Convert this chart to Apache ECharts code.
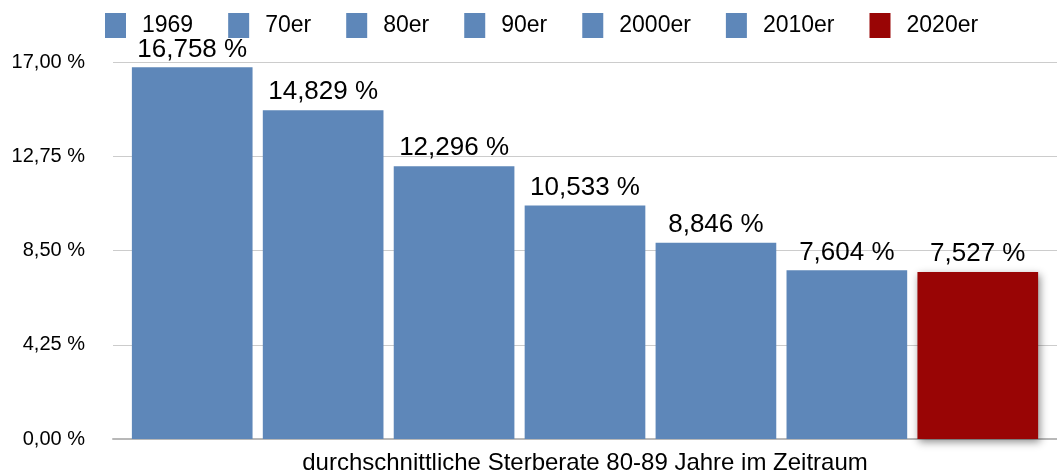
<!DOCTYPE html>
<html>
<head>
<meta charset="utf-8">
<script src="https://cdn.jsdelivr.net/npm/echarts@6/dist/echarts.min.js"></script>
<style>
  html, body { margin: 0; padding: 0; background: #fff; }
  #chart { width: 1057px; height: 475px; }
</style>
</head>
<body>
<div id="chart"></div>
<script>
// Average death rate, ages 80-89, per period
const periods = ['1969', '70er', '80er', '90er', '2000er', '2010er', '2020er'];
const rates = [16.758, 14.829, 12.296, 10.533, 8.846, 7.604, 7.527];
const barColors = ['#5e87b9', '#5e87b9', '#5e87b9', '#5e87b9', '#5e87b9', '#5e87b9', '#990505'];
const categories = [''];
const axisName = 'durchschnittliche Sterberate 80-89 Jahre im Zeitraum';

const FONT = '"Liberation Sans", Arial, sans-serif';

const fmt = (v, d) => v.toFixed(d).replace('.', ',') + ' %';

const series = periods.map((name, i) => ({
  name: name,
  type: 'bar',
  data: [rates[i]],
  barGap: '8.5%',
  barCategoryGap: '4.0%',
  itemStyle: Object.assign(
    { color: barColors[i] },
    i === periods.length - 1
      ? { shadowBlur: 8, shadowOffsetX: 2, shadowOffsetY: 3, shadowColor: 'rgba(0,0,0,0.45)' }
      : {}
  ),
  label: {
    show: true,
    position: 'top',
    distance: 5,
    color: '#000',
    fontFamily: FONT,
    fontSize: 26,
    formatter: p => fmt(p.value, 3)
  },
  emphasis: { disabled: true }
}));

const chart = echarts.init(document.getElementById('chart'), null, { renderer: 'canvas' });
chart.setOption({
  animation: false,
  backgroundColor: '#fff',
  legend: {
    data: periods,
    left: 105,
    top: 13,
    padding: 0,
    icon: 'rect',
    itemWidth: 21,
    itemHeight: 25,
    itemGap: 35,
    textStyle: {
      color: '#000',
      fontFamily: FONT,
      fontSize: 23,
      padding: [0, 0, 0, 11]
    }
  },
  grid: { left: 113, right: 0, top: 62, bottom: 36, containLabel: false, outerBoundsMode: 'none' },
  xAxis: {
    type: 'category',
    data: categories,
    name: axisName,
    nameLocation: 'middle',
    nameGap: 12,
    nameTextStyle: { color: '#000', fontFamily: FONT, fontSize: 24 },
    axisTick: { show: false },
    axisLabel: { show: false },
    axisLine: { lineStyle: { color: '#b8b8b8', width: 2 } }
  },
  yAxis: {
    type: 'value',
    min: 0,
    max: 17,
    interval: 4.25,
    axisLine: { show: false },
    axisTick: { show: false },
    axisLabel: {
      color: '#000',
      fontFamily: FONT,
      fontSize: 20,
      margin: 28,
      formatter: v => fmt(v, 2)
    },
    splitLine: { lineStyle: { color: '#cccccc', width: 1 } }
  },
  series: series
});
</script>
</body>
</html>
